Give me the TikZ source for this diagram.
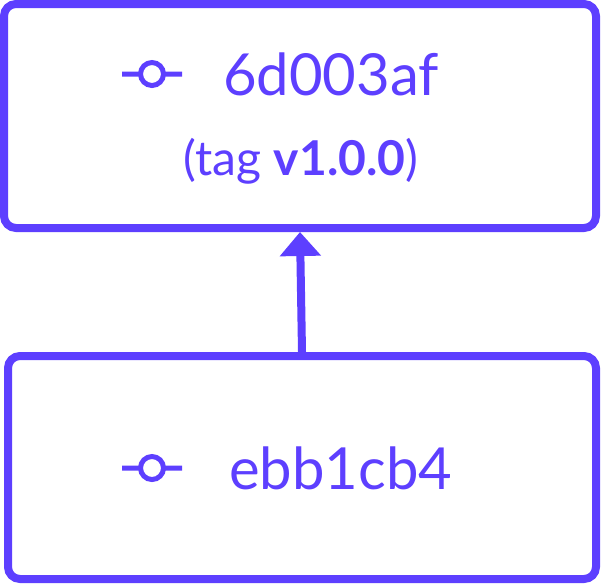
\documentclass[tikz,border=0pt]{standalone}
\usepackage{fontspec}
\setmainfont{Lato}
\usepackage{xcolor}
\definecolor{commitPurple}{RGB}{93, 63, 255}
\usepackage{tikz}
\usetikzlibrary{positioning,arrows.meta}

\tikzset{
  commitbox/.style={draw=commitPurple, line width=8pt, rounded corners=12pt, inner sep=0pt},
  hashtext/.style={text=commitPurple, font=\fontsize{58}{60}\selectfont, inner sep=0pt},
  tagtext/.style={text=commitPurple, font=\fontsize{48}{52}\selectfont, inner sep=0pt},
  commiticon/.pic={
    \draw[commitPurple, line width=5pt] (-30pt,0) -- (-11.5pt,0) (11.5pt,0) -- (30pt,0) (0,0) circle (11.5pt);
  }
}

\begin{document}
\begin{tikzpicture}[x=1pt, y=-1pt]
\useasboundingbox (0,0) rectangle (604,584);
% commit boxes
\node[commitbox, minimum width=592pt, minimum height=224pt] (tagged) at (300,116) {};
\node[commitbox, minimum width=588pt, minimum height=223pt] (parent) at (302,467.5) {};
% tagged commit
\coordinate (taggeddot) at (152,74);
\pic at (taggeddot) {commiticon};
\node[hashtext, right=71pt of taggeddot] (taggedhash) {6d003af};
\node[tagtext] (taggedtag) at (301,161) {(tag \textbf{v1.0.0})};
% parent commit
\coordinate (parentdot) at (152,468);
\pic at (parentdot) {commiticon};
\node[hashtext, right=77pt of parentdot] (parenthash) {ebb1cb4};
% link
\draw[commitPurple, line width=8pt, -{Triangle[width=40pt, length=24pt]}] (parent.north) -- (tagged.south);
\end{tikzpicture}
\end{document}
